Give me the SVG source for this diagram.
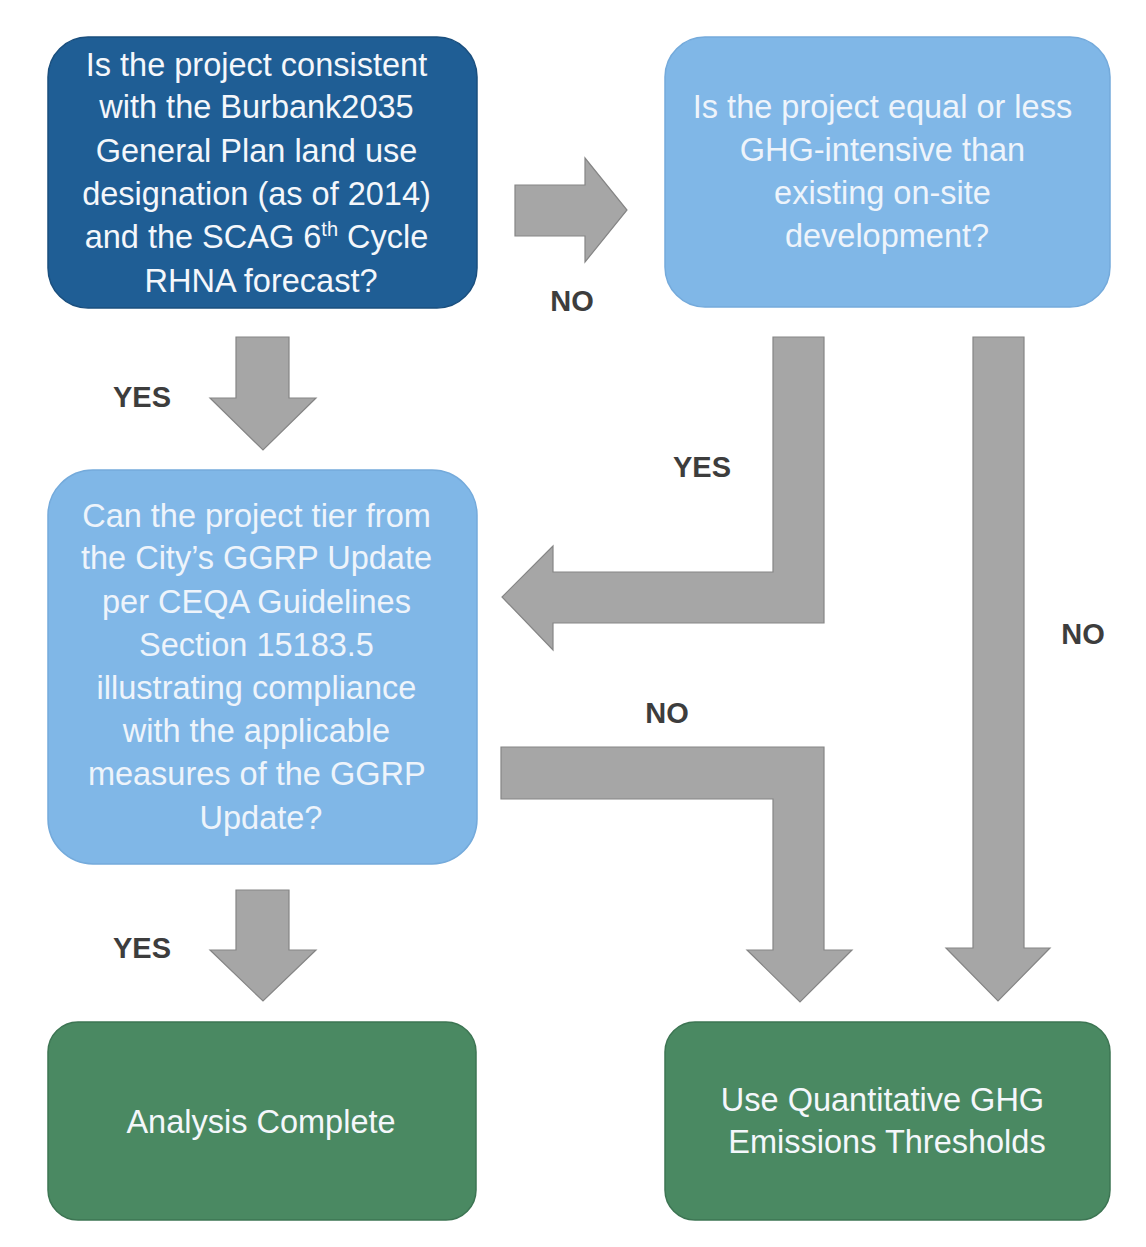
<svg xmlns="http://www.w3.org/2000/svg" width="1146" height="1247" viewBox="0 0 1146 1247">
  <style>
    .box-dark { fill: #1f5e95; stroke: #1a4f7e; stroke-width: 1.5; }
    .box-light { fill: #80b7e7; stroke: #74aadb; stroke-width: 1.5; }
    .box-green { fill: #4a8962; stroke: #3d7553; stroke-width: 1.5; }
    .node-text { font-family: "Liberation Sans", Arial, sans-serif; font-size: 32.5px; text-anchor: middle; }
    .on-dark { fill: #f4f7fb; }
    .on-light { fill: #eef4fb; }
    .arrow { fill: #a6a6a6; stroke: #858585; stroke-width: 1.2; stroke-linejoin: miter; }
    .label { font-family: "Liberation Sans", Arial, sans-serif; font-weight: bold; font-size: 29px; fill: #3d3d3d; text-anchor: middle; }
  </style>
  <rect width="1146" height="1247" fill="#ffffff"/>

  <!-- Connectors: block arrows between decision boxes -->
  <g id="connectors">
    <!-- box 1 -> box 2 (NO) -->
    <polygon class="arrow" points="515,185 585,185 585,158 627,210 585,262 585,236 515,236"/>
    <!-- box 1 -> box 3 (YES) -->
    <polygon class="arrow" points="236,337 289,337 289,398 316,398 263,450 210,398 236,398"/>
    <!-- box 2 -> box 3 (YES), elbow -->
    <polygon class="arrow" points="773,337 824,337 824,623 553,623 553,650 502,597 553,546 553,572 773,572"/>
    <!-- box 2 -> box 5 (NO), straight down -->
    <polygon class="arrow" points="973,337 1024,337 1024,948 1050,948 998,1001 946,948 973,948"/>
    <!-- box 3 -> box 5 (NO), elbow -->
    <polygon class="arrow" points="501,747 824,747 824,950 852,950 800,1002 747,950 773,950 773,799 501,799"/>
    <!-- box 3 -> box 4 (YES) -->
    <polygon class="arrow" points="236,890 289,890 289,950 316,950 263,1001 210,950 236,950"/>

    <text class="label" x="572" y="311">NO</text>
    <text class="label" x="142" y="407">YES</text>
    <text class="label" x="702" y="477">YES</text>
    <text class="label" x="667" y="723">NO</text>
    <text class="label" x="1083" y="644">NO</text>
    <text class="label" x="142" y="958">YES</text>
  </g>

  <!-- Decision: plan consistency -->
  <g id="node-consistency">
    <rect class="box-dark" x="48" y="37" width="429" height="271" rx="40" ry="40"/>
    <text class="node-text on-dark">
      <tspan x="261" y="76">Is the project consistent</tspan>
      <tspan x="261" y="118">with the Burbank2035</tspan>
      <tspan x="261" y="162">General Plan land use</tspan>
      <tspan x="261" y="205">designation (as of 2014)</tspan>
      <tspan x="261" y="248">and the SCAG 6<tspan font-size="20" dy="-12">th</tspan><tspan dy="12"> Cycle</tspan></tspan>
      <tspan x="261" y="292">RHNA forecast?</tspan>
    </text>
  </g>

  <!-- Decision: GHG intensity vs existing -->
  <g id="node-intensity">
    <rect class="box-light" x="665" y="37" width="445" height="270" rx="40" ry="40"/>
    <text class="node-text on-light">
      <tspan x="887" y="118">Is the project equal or less</tspan>
      <tspan x="887" y="161">GHG-intensive than</tspan>
      <tspan x="887" y="204">existing on-site</tspan>
      <tspan x="887" y="247">development?</tspan>
    </text>
  </g>

  <!-- Decision: GGRP tiering -->
  <g id="node-ggrp">
    <rect class="box-light" x="48" y="470" width="429" height="394" rx="45" ry="45"/>
    <text class="node-text on-light">
      <tspan x="261" y="527">Can the project tier from</tspan>
      <tspan x="261" y="569">the City’s GGRP Update</tspan>
      <tspan x="261" y="613">per CEQA Guidelines</tspan>
      <tspan x="261" y="656">Section 15183.5</tspan>
      <tspan x="261" y="699">illustrating compliance</tspan>
      <tspan x="261" y="742">with the applicable</tspan>
      <tspan x="261" y="785">measures of the GGRP</tspan>
      <tspan x="261" y="829">Update?</tspan>
    </text>
  </g>

  <!-- Outcome: done -->
  <g id="node-complete">
    <rect class="box-green" x="48" y="1022" width="428" height="198" rx="30" ry="30"/>
    <text class="node-text on-dark" x="261" y="1133">Analysis Complete</text>
  </g>

  <!-- Outcome: quantitative thresholds -->
  <g id="node-thresholds">
    <rect class="box-green" x="665" y="1022" width="445" height="198" rx="30" ry="30"/>
    <text class="node-text on-dark">
      <tspan x="887" y="1111">Use Quantitative GHG</tspan>
      <tspan x="887" y="1153">Emissions Thresholds</tspan>
    </text>
  </g>
</svg>
